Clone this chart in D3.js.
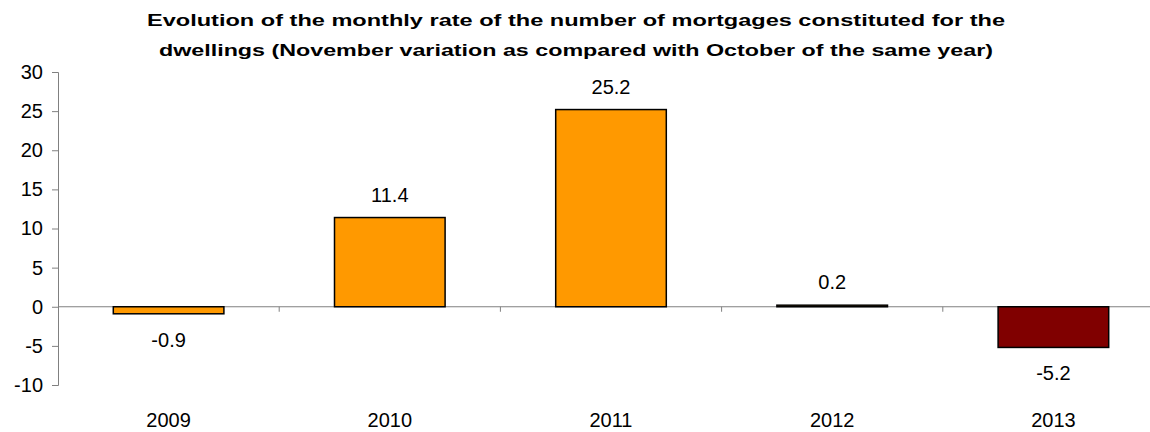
<!DOCTYPE html>
<html>
<head>
<meta charset="utf-8">
<script src="https://cdn.jsdelivr.net/npm/d3@7"></script>
<style>
  body { margin: 0; background: #fff; }
  text { font-family: "Liberation Sans", Arial, sans-serif; }
</style>
</head>
<body>
<svg id="mySvg" width="1150" height="432"></svg>
<script>
const years = ["2009", "2010", "2011", "2012", "2013"];
const rates = [-0.9, 11.4, 25.2, 0.2, -5.2];
const barColors = ["#FF9900", "#FF9900", "#FF9900", "#FF9900", "#800000"];
const yTicks = [-10, -5, 0, 5, 10, 15, 20, 25, 30];
const titleLines = [
    "Evolution of the monthly rate of the number of mortgages constituted for the",
    "dwellings (November variation as compared with October of the same year)"
];

var svg = d3.select("#mySvg");

const left = 58;
const right = 1164;
const fontSize = "20px";

var x = d3.scaleBand().domain(years).range([left, right]).paddingInner(0.5).paddingOuter(0.25);
var y = d3.scaleLinear().domain([-10, 30]).range([385, 72]);

// title
svg.append("g").selectAll("text")
    .data(titleLines)
    .enter().append("text")
    .attr("x", 576)
    .attr("y", (d, i) => 26 + i * 30)
    .attr("text-anchor", "middle")
    .style("font-size", "17px")
    .style("font-weight", "bold")
    .attr("textLength", (d, i) => i == 0 ? 858 : 834)
    .attr("lengthAdjust", "spacingAndGlyphs")
    .text(d => d);

// y axis
var yAxis = svg.append("g")
    .attr("transform", `translate(${left},0)`)
    .call(d3.axisLeft(y).tickValues(yTicks).tickSize(6).tickPadding(9).tickFormat(d => String(d)));
yAxis.select(".domain").attr("stroke", "#808080");
yAxis.selectAll(".tick line").attr("stroke", "#808080");
yAxis.selectAll(".tick text")
    .style("font-size", fontSize)
    .style("font-family", "Liberation Sans, Arial, sans-serif")
    .attr("fill", "#000");

// zero axis with category dividers
var step = x.step();
var xAxis = svg.append("g").attr("transform", `translate(0,${y(0)})`);
xAxis.append("line")
    .attr("x1", left).attr("x2", right)
    .attr("stroke", "#808080");
xAxis.selectAll(".divider")
    .data(d3.range(1, years.length))
    .enter().append("line")
    .attr("x1", d => left + d * step)
    .attr("x2", d => left + d * step)
    .attr("y1", 0).attr("y2", 5)
    .attr("stroke", "#808080");

// bars
svg.append("g").selectAll("rect")
    .data(rates)
    .enter().append("rect")
    .attr("x", (d, i) => x(years[i]))
    .attr("width", x.bandwidth())
    .attr("y", d => y(Math.max(0, d)))
    .attr("height", d => Math.abs(y(d) - y(0)))
    .attr("fill", (d, i) => barColors[i])
    .attr("stroke", "#000")
    .attr("stroke-width", 1.5);

// value labels
svg.append("g").selectAll("text")
    .data(rates)
    .enter().append("text")
    .attr("x", (d, i) => x(years[i]) + x.bandwidth() / 2)
    .attr("y", d => d >= 0 ? y(d) - 16 : y(d) + 33)
    .attr("text-anchor", "middle")
    .style("font-size", fontSize)
    .text(d => d.toFixed(1));

// category labels
svg.append("g").selectAll("text")
    .data(years)
    .enter().append("text")
    .attr("x", d => x(d) + x.bandwidth() / 2)
    .attr("y", 427)
    .attr("text-anchor", "middle")
    .style("font-size", fontSize)
    .text(d => d);
</script>
</body>
</html>
